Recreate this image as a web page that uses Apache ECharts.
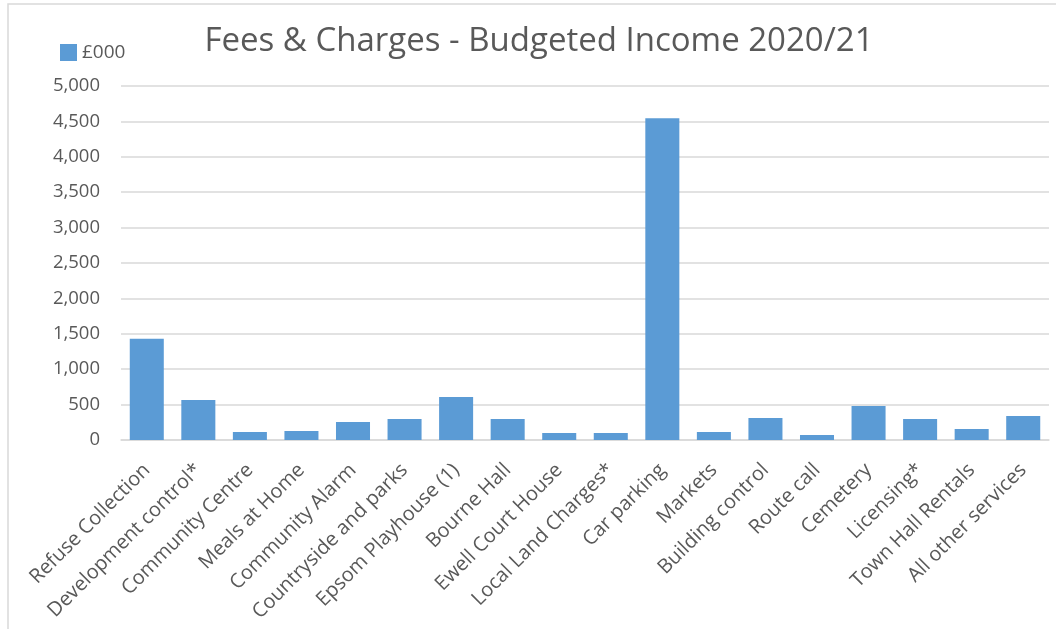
<!DOCTYPE html>
<html><head><meta charset="utf-8">
<script src="https://cdn.jsdelivr.net/npm/echarts@6/dist/echarts.min.js"></script>
<style>html,body{margin:0;padding:0;background:#fff}#c{width:1056px;height:629px}</style>
</head><body><div id="c"></div>
<script>
const categories = ["Refuse Collection","Development control*","Community Centre","Meals at Home","Community Alarm","Countryside and parks","Epsom Playhouse (1)","Bourne Hall","Ewell Court House","Local Land Charges*","Car parking","Markets","Building control","Route call","Cemetery","Licensing*","Town Hall Rentals","All other services"];
const values = [1430,566,113,127,255,297,609,297,99,99,4545,113,311,71,481,297,156,340];
const seriesName = "£000";
const titleText = "Fees & Charges - Budgeted Income 2020/21";
const font = "'Open Sans', sans-serif";
const chart = echarts.init(document.getElementById('c'));
chart.setOption({
  animation:false,
  title:{text:titleText,left:534,textAlign:'center',top:20,textStyle:{fontFamily:font,fontSize:33,fontWeight:'normal',color:'#595959'}},
  legend:{left:55,top:38,itemWidth:17,itemHeight:17,itemGap:6,icon:'rect',textStyle:{fontFamily:font,fontSize:19,color:'#595959'},data:[seriesName]},
  graphic:[{type:'rect',shape:{x:8,y:4,width:1100,height:700},style:{fill:'none',stroke:'#d9d9d9',lineWidth:1.5},silent:true}],
  grid:{left:121,right:7,top:86,bottom:189,containLabel:false},
  xAxis:{type:'category',data:categories,axisTick:{show:false},
    axisLine:{lineStyle:{color:'#d9d9d9',width:1.5}},
    axisLabel:{rotate:45,interval:0,fontFamily:font,fontSize:20,color:'#595959',margin:27}},
  yAxis:{type:'value',min:0,max:5000,interval:500,
    axisLabel:{fontFamily:font,fontSize:18.5,color:'#595959',margin:21,formatter:v=>v.toLocaleString('en-GB')},
    splitLine:{lineStyle:{color:'#d9d9d9',width:1.5}},axisLine:{show:false},axisTick:{show:false}},
  series:[{name:seriesName,type:'bar',data:values,barCategoryGap:'34%',itemStyle:{color:'#5b9bd5'}}]
});
</script></body></html>
